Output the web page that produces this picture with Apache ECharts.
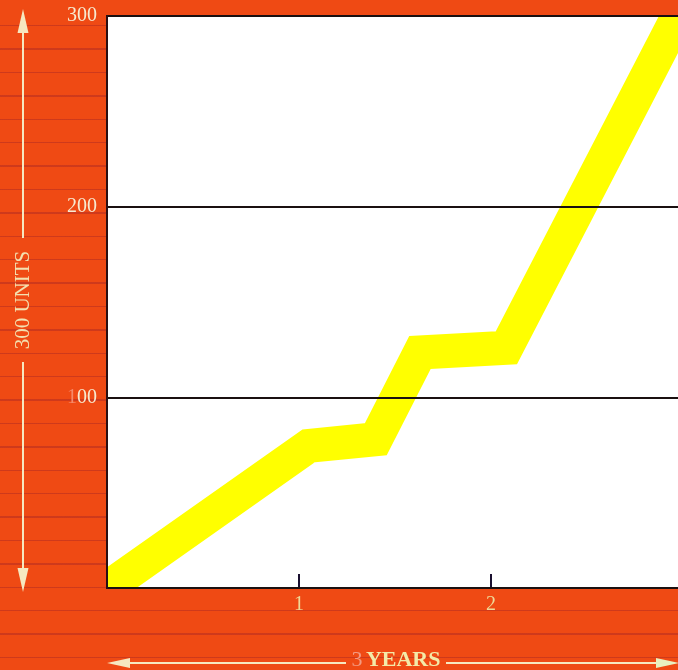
<!DOCTYPE html>
<html>
<head>
<meta charset="utf-8">
<script src="https://cdn.jsdelivr.net/npm/echarts@6/dist/echarts.min.js"></script>
<style>
  html, body { margin: 0; padding: 0; }
  body {
    width: 678px; height: 670px; overflow: hidden;
    background-color: #ef4a14;
    background-image: repeating-linear-gradient(to bottom,
      rgba(0,0,0,0) 0px, rgba(0,0,0,0) 22px,
      rgba(110,10,50,0.25) 22px, rgba(110,10,50,0.25) 23.4px);
    background-position: 0 3px;
  }
  #chart { width: 678px; height: 670px; }
</style>
</head>
<body>
<div id="chart"></div>
<script>
// Data
const years = [0, 1.05, 1.40, 1.63, 2.08, 3.0];
const units = [0, 74.5, 78, 123.5, 126, 305];
const xTickLabels = ['', '1', '2', '3'];
const yTickLabels = ['', '{f|1}00', '200', '300'];

const seriesData = years.map((x, i) => [x, units[i]]);

const chart = echarts.init(document.getElementById('chart'), null, { renderer: 'canvas' });

const cream = '#f6e8c0';
const dark = '#2a0f12';

chart.setOption({
  backgroundColor: 'transparent',
  animation: false,
  grid: {
    left: 107, top: 16, right: -5, bottom: 82,
    outerBoundsMode: 'none',
    containLabel: false,
    show: true, backgroundColor: '#ffffff',
    borderColor: dark, borderWidth: 2
  },
  xAxis: {
    type: 'value', min: 0, max: 3, interval: 1,
    axisLine: { show: true, lineStyle: { color: dark, width: 2 } },
    axisTick: { show: true, inside: true, length: 14, lineStyle: { color: '#1a1030', width: 2 } },
    splitLine: { show: false },
    axisLabel: {
      margin: 7,
      color: '#efd998',
      fontFamily: 'Liberation Serif',
      fontSize: 20,
      formatter: (v) => xTickLabels[Math.round(v)]
    }
  },
  yAxis: {
    type: 'value', min: 0, max: 300, interval: 100, z: 5,
    axisLine: { show: true, lineStyle: { color: dark, width: 2 } },
    axisTick: { show: false },
    splitLine: { show: true, lineStyle: { color: '#1a1010', width: 2 } },
    axisLabel: {
      margin: 10,
      color: '#f7ead0',
      fontFamily: 'Liberation Serif',
      fontSize: 20,
      formatter: (v) => yTickLabels[Math.round(v / 100)],
      rich: { f: { color: '#f58a6a', fontFamily: 'Liberation Serif', fontSize: 20 } }
    }
  },
  series: [{
    type: 'custom',
    data: seriesData,
    encode: { x: 0, y: 1 },
    z: 2,
    renderItem: function (params, api) {
      if (params.dataIndex !== 0) return;
      const cs = params.coordSys;
      const pts = seriesData.map(d => api.coord(d));
      return {
        type: 'polyline',
        shape: { points: pts },
        style: { stroke: '#ffff00', lineWidth: 34, lineJoin: 'miter', lineCap: 'butt', fill: null },
        clipPath: { type: 'rect', shape: { x: cs.x, y: cs.y, width: cs.width, height: cs.height } }
      };
    }
  }],
  graphic: [
    // vertical arrow (left)
    { type: 'line', shape: { x1: 23, y1: 28, x2: 23, y2: 238 }, style: { stroke: cream, lineWidth: 2 } },
    { type: 'line', shape: { x1: 23, y1: 362, x2: 23, y2: 575 }, style: { stroke: cream, lineWidth: 2 } },
    { type: 'polygon', shape: { points: [[23, 9], [17.5, 33], [28.5, 33]] }, style: { fill: cream } },
    { type: 'polygon', shape: { points: [[23, 592], [17.5, 568], [28.5, 568]] }, style: { fill: cream } },
    {
      type: 'text', x: 23, y: 300, rotation: Math.PI / 2,
      style: {
        text: '300 UNITS', fill: '#f3e0b0', font: '21px "Liberation Serif"',
        align: 'center', verticalAlign: 'middle'
      }
    },
    // horizontal arrow (bottom)
    { type: 'line', shape: { x1: 125, y1: 663, x2: 346, y2: 663 }, style: { stroke: cream, lineWidth: 2 } },
    { type: 'line', shape: { x1: 446, y1: 663, x2: 662, y2: 663 }, style: { stroke: cream, lineWidth: 2 } },
    { type: 'polygon', shape: { points: [[107, 663], [130, 658], [130, 668]] }, style: { fill: cream } },
    { type: 'polygon', shape: { points: [[679, 663], [656, 658], [656, 668]] }, style: { fill: '#e8f0c0' } },
    {
      type: 'text', x: 396, y: 660,
      style: {
        text: '{n|3} {y|YEARS}',
        align: 'center', verticalAlign: 'middle',
        rich: {
          n: { fill: '#f39a80', font: '22px "Liberation Serif"' },
          y: { fill: '#f3eaa8', font: 'bold 22px "Liberation Serif"' }
        }
      }
    }
  ]
});
</script>
</body>
</html>
